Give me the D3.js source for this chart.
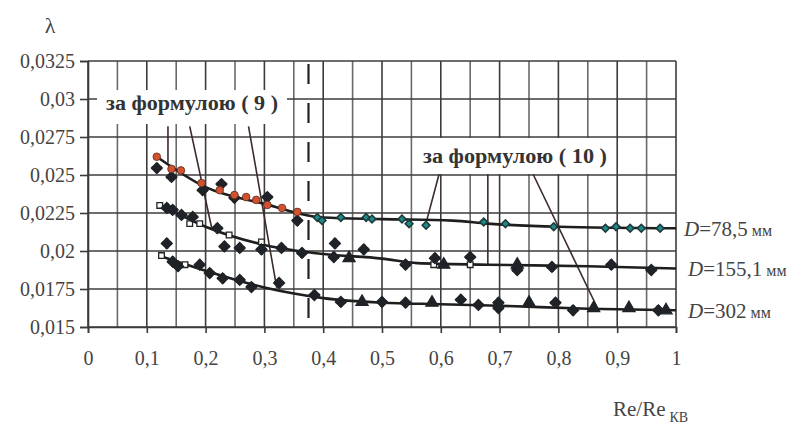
<!DOCTYPE html>
<html><head><meta charset="utf-8">
<script src="https://cdn.jsdelivr.net/npm/d3@7"></script>
<style>body{margin:0;background:#fff}svg{display:block}
text{font-family:"Liberation Serif","Times New Roman","DejaVu Serif",serif;}</style>
</head><body>
<svg id="c" width="806" height="427"></svg>
<script>
// ---- data ----
const xTicks = [0,0.1,0.2,0.3,0.4,0.5,0.6,0.7,0.8,0.9,1];
const xTickLabels = ["0","0,1","0,2","0,3","0,4","0,5","0,6","0,7","0,8","0,9","1"];
const yTicks = [0.015,0.0175,0.02,0.0225,0.025,0.0275,0.03,0.0325];
const yTickLabels = ["0,015","0,0175","0,02","0,0225","0,025","0,0275","0,03","0,0325"];
const seriesLabels = ["D=78,5 мм","D=155,1 мм","D=302 мм"];

const fit785 = [[0.117,0.0262],[0.2,0.0242],[0.3,0.0231],[0.4,0.0222],[0.5,0.0221],[0.62,0.0220],[0.68,0.0218],[0.8,0.0216],[1.0,0.0215]];
const fit1551 = [[0.12,0.0231],[0.2,0.0216],[0.3,0.0204],[0.4,0.0198],[0.5,0.0195],[0.56,0.0192],[0.68,0.0191],[0.85,0.0190],[1.0,0.01885]];
const fit302 = [[0.12,0.0197],[0.2,0.0187],[0.3,0.0176],[0.35,0.0172],[0.4,0.0169],[0.5,0.0166],[0.6,0.0165],[0.7,0.0164],[0.85,0.0162],[1.0,0.0161]];

const redPts = [[0.117,0.0262],[0.142,0.0254],[0.158,0.0253],[0.193,0.02447],[0.224,0.0240],[0.249,0.02368],[0.269,0.02355],[0.286,0.02336],[0.305,0.02303],[0.33,0.02283],[0.356,0.02257]];
const tealPts = [[0.39,0.0222],[0.398,0.0220],[0.43,0.0222],[0.473,0.0222],[0.483,0.0221],[0.534,0.0221],[0.546,0.0218],[0.575,0.0217],[0.673,0.0219],[0.71,0.0218],[0.792,0.0216],[0.88,0.0215],[0.898,0.0216],[0.922,0.0215],[0.941,0.0215],[0.973,0.0215]];
const diamondPts = [
 [0.117,0.02546],[0.142,0.02487],[0.195,0.0240],[0.227,0.0244],[0.249,0.0235],[0.305,0.02355],[0.356,0.0220],
 [0.134,0.02283],[0.144,0.0227],[0.159,0.02237],[0.178,0.02224],[0.22,0.0215],[0.232,0.0203],[0.258,0.0202],[0.295,0.0201],[0.329,0.0202],[0.364,0.01987],[0.42,0.0205],[0.418,0.0196],[0.469,0.0201],[0.54,0.0191],[0.59,0.01953],[0.65,0.0196],[0.73,0.01875],[0.789,0.01895],[0.89,0.0191],[0.958,0.01875],
 [0.134,0.0205],[0.144,0.0193],[0.153,0.0190],[0.19,0.0191],[0.207,0.01855],[0.229,0.0182],[0.258,0.0181],[0.278,0.01763],[0.325,0.0179],[0.385,0.0171],[0.43,0.01665],[0.5,0.01665],[0.54,0.0166],[0.634,0.0168],[0.664,0.01645],[0.698,0.0166],[0.698,0.01625],[0.795,0.0166],[0.825,0.0161],[0.97,0.0161]];
const squarePts = [[0.122,0.0230],[0.173,0.0218],[0.19,0.0218],[0.24,0.02105],[0.295,0.0206],[0.588,0.0191],[0.65,0.0191],[0.125,0.0197],[0.165,0.0191]];
const trianglePts = [[0.444,0.01953],[0.605,0.0191],[0.73,0.0191],[0.466,0.01665],[0.585,0.0166],[0.75,0.0166],[0.86,0.01625],[0.92,0.01625],[0.983,0.0161]];

const dashedX = 0.375;
// annotation leader lines: [from, to] in data units
const leaders9 = [[[0.136,0.0282],[0.136,0.0258]],[[0.173,0.0282],[0.211,0.0214]],[[0.273,0.0282],[0.321,0.01757]]];
const leaders10 = [[[0.597,0.02505],[0.576,0.0220]],[[0.68,0.02505],[0.68,0.0191]],[[0.757,0.02505],[0.867,0.0162]]];

// ---- chart ----
const svg = d3.select("#c");
const x = d3.scaleLinear().domain([0,1]).range([88,676]);
const y = d3.scaleLinear().domain([0.015,0.0325]).range([327,61]);
const ink = "#3a3a3a";

// grid
const vGrid = d3.range(0,1.0001,0.05);
svg.append("g").selectAll("line").data(vGrid).join("line")
  .attr("x1",d=>x(d)).attr("x2",d=>x(d)).attr("y1",y(0.0325)).attr("y2",y(0.015))
  .attr("stroke",(d,i)=> i%2? "#6a6a6a":"#3c3c3c").attr("stroke-width",1.6);
svg.append("g").selectAll("line").data(yTicks).join("line")
  .attr("x1",x(0)).attr("x2",x(1)).attr("y1",d=>y(d)).attr("y2",d=>y(d))
  .attr("stroke","#3c3c3c").attr("stroke-width",1.6);

// axes
const yAxis = d3.axisLeft(y).tickValues(yTicks).tickFormat((d,i)=>yTickLabels[i]).tickSize(8).tickPadding(5);
const gy = svg.append("g").attr("transform",`translate(${x(0)},0)`).call(yAxis);
const xAxis = d3.axisBottom(x).tickValues(xTicks).tickFormat((d,i)=>xTickLabels[i]).tickSize(6).tickPadding(18);
const gx = svg.append("g").attr("transform",`translate(0,${y(0.015)})`).call(xAxis);
[gx,gy].forEach(g=>{
  g.attr("font-family",null).attr("font-size",null);
  g.select(".domain").attr("stroke",ink).attr("stroke-width",1.6);
  g.selectAll(".tick line").attr("stroke",ink).attr("stroke-width",1.6);
  g.selectAll(".tick text").attr("font-size",20).attr("fill","#444");
});

// dashed line
svg.append("line").attr("x1",x(dashedX)).attr("x2",x(dashedX)).attr("y1",y(0.0323)).attr("y2",y(0.0151))
  .attr("stroke","#222").attr("stroke-width",2.2).attr("stroke-dasharray","20,19");

// annotation boxes
function box(cx,cy,w,h){svg.append("rect").attr("x",cx-w/2).attr("y",cy-h/2).attr("width",w).attr("height",h).attr("fill","#fff");}
box((97+287)/2, 107, 190, 34);
box((416+614)/2, 156, 198, 36);

// leader lines
const line = d3.line().x(d=>x(d[0])).y(d=>y(d[1]));
svg.append("g").selectAll("path").data(leaders9.concat(leaders10)).join("path")
  .attr("d",line).attr("fill","none").attr("stroke","#3b2b2b").attr("stroke-width",1.6);

// fit curves
const curve = d3.line().x(d=>x(d[0])).y(d=>y(d[1])).curve(d3.curveMonotoneX);
svg.append("g").selectAll("path").data([fit785,fit1551,fit302]).join("path")
  .attr("d",curve).attr("fill","none").attr("stroke","#1e1e1e").attr("stroke-width",2.6);

// markers
function marks(data,type,size,fill,stroke,sw,rot){
  svg.append("g").selectAll("path").data(data).join("path")
    .attr("transform",d=>`translate(${x(d[0])},${y(d[1])}) rotate(${rot||0})`)
    .attr("d",d3.symbol().type(type).size(size))
    .attr("fill",fill).attr("stroke",stroke).attr("stroke-width",sw);
}
marks(squarePts,d3.symbolSquare,32,"#fff","#222",1.3);
marks(diamondPts,d3.symbolSquare,58,"#1f2328","#1f2328",1.4,45);
marks(diamondPts,d3.symbolCross,55,"#1f2328","none",0);
marks(trianglePts,d3.symbolTriangle,65,"#1f2328","#1f2328",1.2);
marks(redPts,d3.symbolCircle,46,"#d2522e","#5a2a20",0.8);
marks(tealPts,d3.symbolSquare,30,"#1f8a8a","#1f3a3a",1.6,45);

// annotation texts
svg.append("text").attr("x",(97+287)/2).attr("y",110).attr("text-anchor","middle")
  .attr("font-weight","bold").attr("font-size",20).attr("fill","#333")
  .attr("textLength",172).attr("lengthAdjust","spacingAndGlyphs")
  .text("за формулою ( 9 )");
svg.append("text").attr("x",(416+614)/2).attr("y",163).attr("text-anchor","middle")
  .attr("font-weight","bold").attr("font-size",20).attr("fill","#333")
  .attr("textLength",184).attr("lengthAdjust","spacingAndGlyphs")
  .text("за формулою ( 10 )");

// series labels
const labY = [fit785[fit785.length-1][1], fit1551[fit1551.length-1][1], fit302[fit302.length-1][1]];
seriesLabels.forEach((s,i)=>{
  const [a,b] = s.split(" ");
  const t = svg.append("text").attr("x",i===0?684:688).attr("y",y(labY[i])+8)
    .attr("fill","#444").attr("font-size",21);
  t.append("tspan").attr("font-style","italic").text(a.slice(0,1));
  t.append("tspan").text(a.slice(1));
  t.append("tspan").attr("font-size",16).text(" "+b);
});

// axis titles
svg.append("text").attr("x",50).attr("y",33).attr("text-anchor","middle")
  .attr("font-size",22).attr("fill","#444").text("λ");
const xt = svg.append("text").attr("x",613).attr("y",416).attr("font-size",21).attr("fill","#444");
xt.append("tspan").text("Re/Re");
xt.append("tspan").attr("dx",4).attr("dy",6).attr("font-size",14).text("КВ");
</script>
</body></html>
